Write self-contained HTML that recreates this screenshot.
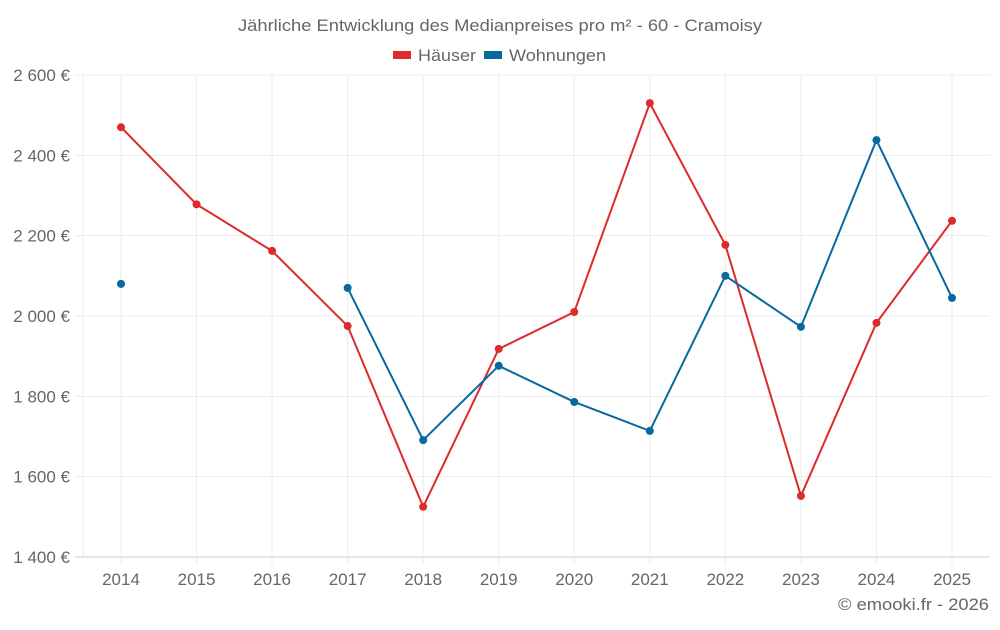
<!DOCTYPE html>
<html><head><meta charset="utf-8"><style>
body{margin:0;background:#fff;font-family:"Liberation Sans",sans-serif;}
svg text{font-family:"Liberation Sans",sans-serif;fill:#666;}
</style></head><body>
<svg id="chart" width="1000" height="625" xmlns="http://www.w3.org/2000/svg">
<text x="238" y="31" font-size="17" textLength="524" lengthAdjust="spacingAndGlyphs">Jährliche Entwicklung des Medianpreises pro m² - 60 - Cramoisy</text>
<g>
<rect x="393" y="51" width="18" height="8" fill="#dd2a2a"/>
<text x="418" y="61" font-size="17" textLength="58" lengthAdjust="spacingAndGlyphs">Häuser</text>
<rect x="484" y="51" width="18" height="8" fill="#0868a0"/>
<text x="509" y="61" font-size="17" textLength="97" lengthAdjust="spacingAndGlyphs">Wohnungen</text>
</g>
<g id="grid"></g><g id="axes"></g><g id="series"></g>
<text x="838" y="610" font-size="17" textLength="151" lengthAdjust="spacingAndGlyphs">© emooki.fr - 2026</text>
</svg>
<script>
const years=[2014,2015,2016,2017,2018,2019,2020,2021,2022,2023,2024,2025];
const haeuser=[2470,2278,2162,1975,1525,1918,2010,2530,2177,1552,1983,2237];
const wohnungen=[2080,null,null,2070,1691,1876,1786,1714,2100,1973,2438,2045];
const yTicks=[1400,1600,1800,2000,2200,2400,2600];
const yTickLabels=["1 400 €","1 600 €","1 800 €","2 000 €","2 200 €","2 400 €","2 600 €"];
const L=83,R=990,T=75,B=557,yMin=1400,yMax=2600;
const x=i=>121+i*(952-121)/(years.length-1);
const y=v=>B-(v-yMin)/(yMax-yMin)*(B-T);
const NS="http://www.w3.org/2000/svg";
function mk(tag,parent,attrs){const e=document.createElementNS(NS,tag);for(const k in attrs)e.setAttribute(k,attrs[k]);parent.appendChild(e);return e;}
const grid=document.getElementById('grid'),axes=document.getElementById('axes'),ser=document.getElementById('series');
yTicks.forEach((t,i)=>{
 const l=mk('line',grid,{x1:75,x2:R,y1:y(t),y2:y(t),stroke:i==0?'#ccc':'#ebebeb','stroke-width':1});
 
 
 const tx=mk('text',axes,{x:70,y:y(t)+6,'text-anchor':'end','font-size':17});
 tx.textContent=yTickLabels[i];
 
 
});
mk('line',grid,{x1:L,x2:L,y1:T,y2:B,stroke:'#ebebeb'});
years.forEach((yr,i)=>{
 const l=mk('line',grid,{x1:x(i),x2:x(i),y1:T,y2:565,stroke:'#ebebeb'});
 
 
 const tx=mk('text',axes,{x:x(i),y:585,'text-anchor':'middle','font-size':17});
 tx.textContent=yr;
 
 
});
function draw(vals,color,name){
 let d='',pen=false;
 vals.forEach((v,i)=>{if(v==null){pen=false;return;}d+=(pen?'L':'M')+x(i)+' '+y(v)+' ';pen=true;});
 const p=mk('path',ser,{d:d,fill:'none',stroke:color,'stroke-width':2});
 
 
 vals.forEach((v,i)=>{if(v==null)return;
  const c=mk('circle',ser,{cx:x(i),cy:y(v),r:4,fill:color});
  
  
 });
}
draw(haeuser,'#dd2a2a','haeuser');
draw(wohnungen,'#0868a0','wohnungen');
</script>
</body></html>
